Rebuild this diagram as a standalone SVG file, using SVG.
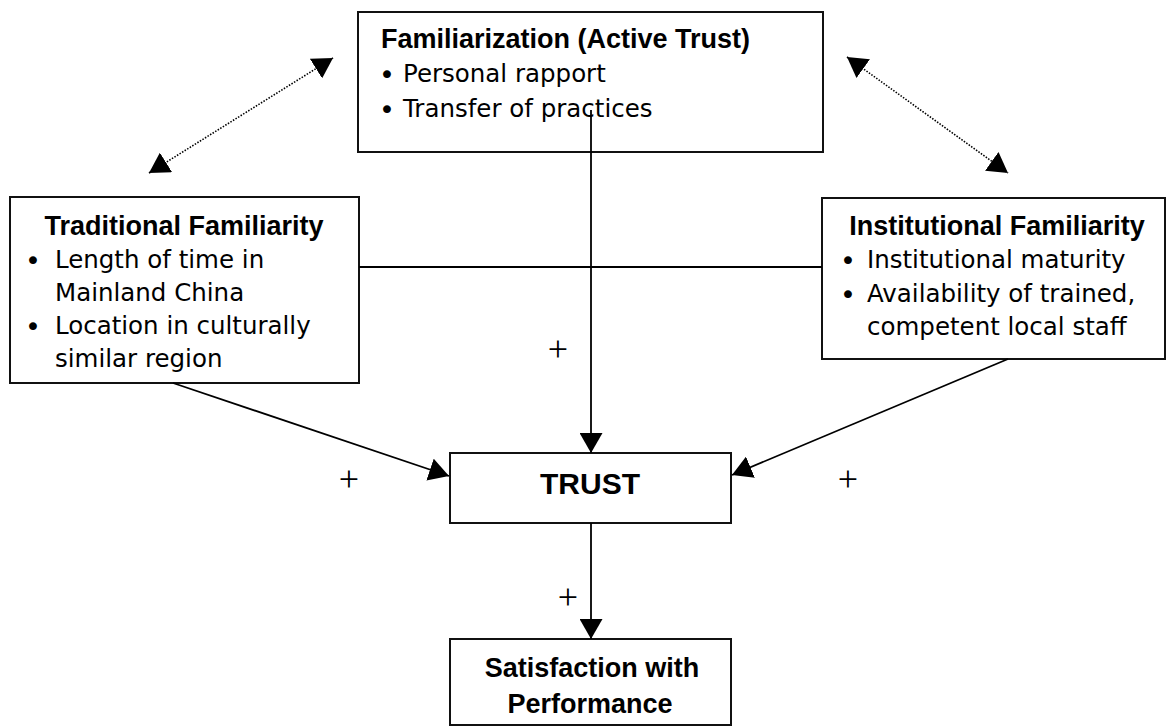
<svg xmlns="http://www.w3.org/2000/svg" width="1167" height="726" viewBox="0 0 1167 726">
  <defs>
    <marker id="head" markerUnits="userSpaceOnUse" markerWidth="21" markerHeight="23" refX="20" refY="11.5" orient="auto-start-reverse">
      <path d="M0,0 L20,11.5 L0,23 z" fill="#000"/>
    </marker>
    <style>
      .box { fill: #fff; stroke: #111; stroke-width: 2; }
      .title { font-family: "Liberation Sans", Arial, sans-serif; font-weight: bold; font-size: 27px; fill: #000; }
      .item { font-family: "DejaVu Sans", "Liberation Sans", sans-serif; font-size: 24.5px; fill: #000; }
      .bullet { font-family: "DejaVu Sans", "Liberation Sans", sans-serif; font-size: 27px; fill: #000; text-anchor: middle; }
      .sign { font-family: "Liberation Serif", serif; font-size: 36px; fill: #000; text-anchor: middle; }
      .link { fill: none; stroke: #000; stroke-width: 1.8; }
      .dotted { fill: none; stroke: #000; stroke-width: 1.6; stroke-dasharray: 1.5 1.5; }
    </style>
  </defs>

  <rect width="1167" height="726" fill="#fff"/>

  <!-- boxes -->
  <g id="familiarization">
    <rect class="box" x="358" y="12" width="465" height="140"/>
    <text class="title" x="381" y="48">Familiarization (Active Trust)</text>
    <text class="bullet" x="387" y="84">•</text>
    <text class="item" x="403" y="82">Personal rapport</text>
    <text class="bullet" x="387" y="119">•</text>
    <text class="item" x="403" y="117">Transfer of practices</text>
  </g>

  <g id="traditional">
    <rect class="box" x="10" y="197" width="349" height="186"/>
    <text class="title" x="184" y="235" text-anchor="middle">Traditional Familiarity</text>
    <text class="bullet" x="33" y="270">•</text>
    <text class="item" x="55" y="268">Length of time in</text>
    <text class="item" x="55" y="301">Mainland China</text>
    <text class="bullet" x="33" y="336">•</text>
    <text class="item" x="55" y="334">Location in culturally</text>
    <text class="item" x="55" y="367">similar region</text>
  </g>

  <g id="institutional">
    <rect class="box" x="822" y="198" width="343" height="161"/>
    <text class="title" x="997" y="235" text-anchor="middle">Institutional Familiarity</text>
    <text class="bullet" x="848" y="270">•</text>
    <text class="item" x="867" y="268">Institutional maturity</text>
    <text class="bullet" x="848" y="304">•</text>
    <text class="item" x="867" y="302">Availability of trained,</text>
    <text class="item" x="867" y="335">competent local staff</text>
  </g>

  <g id="trust">
    <rect class="box" x="450" y="453" width="281" height="70"/>
    <text class="title" x="590" y="494" text-anchor="middle" style="font-size:30px">TRUST</text>
  </g>

  <g id="satisfaction">
    <rect class="box" x="450" y="639" width="281" height="86"/>
    <text class="title" x="592" y="677" text-anchor="middle">Satisfaction with</text>
    <text class="title" x="590" y="713" text-anchor="middle">Performance</text>
  </g>

  <!-- connectors -->
  <g id="connectors">
    <line class="link" x1="359" y1="267" x2="822" y2="267"/>
    <line class="link" x1="591" y1="110" x2="591" y2="453" marker-end="url(#head)"/>
    <line class="link" x1="173" y1="383" x2="449" y2="476" marker-end="url(#head)"/>
    <line class="link" x1="1008" y1="359" x2="732" y2="475" marker-end="url(#head)"/>
    <line class="link" x1="591" y1="523" x2="591" y2="639" marker-end="url(#head)"/>
    <line class="dotted" x1="149" y1="173" x2="333" y2="58" marker-start="url(#head)" marker-end="url(#head)"/>
    <line class="dotted" x1="847" y1="57" x2="1008" y2="173" marker-start="url(#head)" marker-end="url(#head)"/>
  </g>

  <!-- signs on the links -->
  <g id="signs">
    <text class="sign" x="558" y="361">+</text>
    <text class="sign" x="349" y="491">+</text>
    <text class="sign" x="848" y="491">+</text>
    <text class="sign" x="568" y="609">+</text>
  </g>
</svg>
